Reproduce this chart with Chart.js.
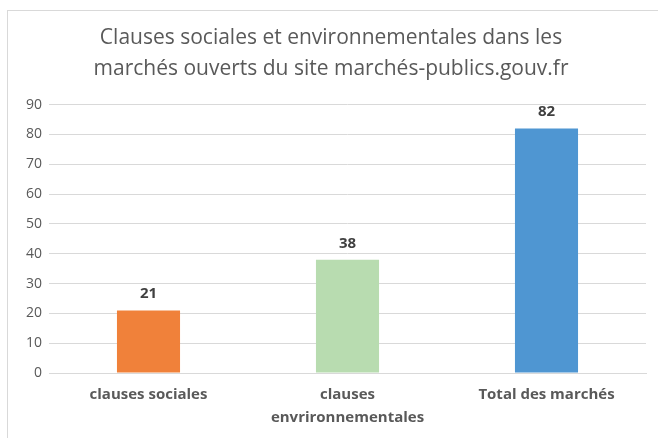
<!DOCTYPE html>
<html><head><meta charset="utf-8">
<script src="https://cdn.jsdelivr.net/npm/chart.js@4/dist/chart.umd.min.js"></script>
<style>
html,body{margin:0;padding:0;background:#fff;overflow:hidden}
#wrap{position:relative;width:658px;height:438px}
#frame{position:absolute;left:7px;top:10px;width:700px;height:500px;border:1px solid #d9d9d9;box-sizing:border-box;pointer-events:none}
canvas{position:absolute;left:0;top:0}
</style></head>
<body><div id="wrap"><div id="frame"></div><canvas id="c" width="658" height="438"></canvas></div>
<script>
const categories = ['clauses sociales', ['clauses', 'envrironnementales'], 'Total des marchés'];
const values = [21, 38, 82];
const barColors = ['#f0813a', '#b8dcb0', '#4f96d2'];
const titleLines = ['Clauses sociales et environnementales dans les', 'marchés ouverts du site marchés-publics.gouv.fr'];

const labelPlugin = {
  id: 'valueLabels',
  afterDatasetsDraw(chart) {
    const ctx = chart.ctx;
    const meta = chart.getDatasetMeta(0);
    ctx.save();
    ctx.font = 'bold 15px "Open Sans"';
    ctx.fillStyle = '#404040';
    ctx.textAlign = 'center';
    ctx.textBaseline = 'alphabetic';
    meta.data.forEach((bar, i) => {
      ctx.fillText(String(values[i]), bar.x, bar.y - 12);
    });
    ctx.restore();
  }
};

new Chart(document.getElementById('c'), {
  type: 'bar',
  data: { labels: categories, datasets: [{ data: values, backgroundColor: barColors, categoryPercentage: 1, barPercentage: 0.317 }] },
  options: {
    responsive: false, animation: false,
    layout: { padding: { left: 16, right: 12, top: 10, bottom: -1 } },
    plugins: {
      legend: { display: false }, tooltip: { enabled: false },
      title: { display: true, text: titleLines, color: '#595959', font: { family: '"Open Sans"', size: 21, weight: 'normal', lineHeight: 1.43 }, padding: { top: 13.5, bottom: 21 } }
    },
    scales: {
      x: { grid: { display: false, drawTicks: false }, border: { color: '#d9d9d9' },
           ticks: { color: '#595959', font: { family: '"Open Sans"', size: 15, weight: 'bold', lineHeight: 1.53 }, padding: 10, maxRotation: 0 } },
      y: { min: 0, max: 90, grid: { color: '#d9d9d9', drawTicks: false }, border: { display: false },
           afterFit(scale) { scale.width = 33; },
           ticks: { stepSize: 10, color: '#595959', font: { family: '"Open Sans"', size: 14 }, padding: 7 } }
    }
  },
  plugins: [labelPlugin]
});
</script></body></html>
